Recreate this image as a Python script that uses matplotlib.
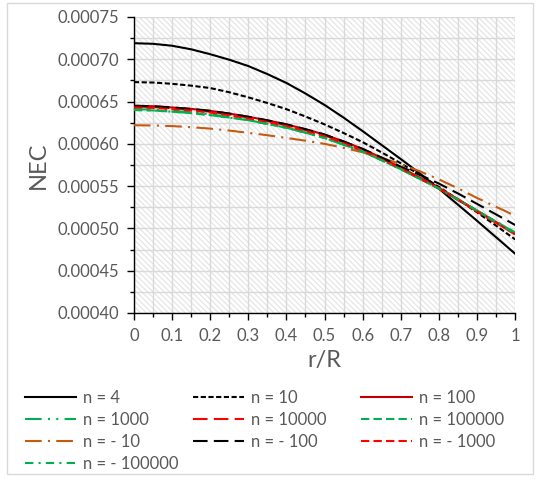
import matplotlib
matplotlib.use("Agg")
import matplotlib.pyplot as plt
from matplotlib.patches import Rectangle
from matplotlib.ticker import MultipleLocator, FormatStrFormatter, FuncFormatter

plt.rcParams['font.family'] = ['Lato', 'DejaVu Sans']
plt.rcParams['hatch.linewidth'] = 0.8

r = [0.0, 0.05, 0.1, 0.15, 0.2, 0.25, 0.3, 0.35, 0.4, 0.45, 0.5,
     0.55, 0.6, 0.65, 0.7, 0.75, 0.8, 0.85, 0.9, 0.95, 1.0]

n4 = [719e-6, 718.3e-6, 716e-6, 711.8e-6, 706e-6, 699.5e-6, 692e-6, 682.5e-6, 672e-6, 659.5e-6, 646e-6,
      631e-6, 615e-6, 598.5e-6, 582e-6, 565e-6, 547e-6, 528e-6, 509e-6, 489.5e-6, 470e-6]
n10 = [673e-6, 672.5e-6, 671e-6, 668.8e-6, 666e-6, 661e-6, 655e-6, 648.3e-6, 641e-6, 632.3e-6, 623e-6,
       612.8e-6, 602e-6, 589.8e-6, 577e-6, 563.3e-6, 549e-6, 534.3e-6, 519e-6, 503.2e-6, 487e-6]
n100 = [645e-6, 644.5e-6, 643e-6, 641.3e-6, 639e-6, 635.8e-6, 632e-6, 627.8e-6, 623e-6, 617.3e-6, 611e-6,
        602.8e-6, 594e-6, 583.3e-6, 572e-6, 560e-6, 548e-6, 534.6e-6, 521e-6, 507.5e-6, 494e-6]
n1000 = [641e-6, 640.5e-6, 639e-6, 637.3e-6, 635e-6, 631.8e-6, 628e-6, 623.8e-6, 619e-6, 613.3e-6, 607e-6,
         599e-6, 591e-6, 580.5e-6, 570e-6, 558.5e-6, 547e-6, 534e-6, 521e-6, 508e-6, 495e-6]
n10000 = [644e-6, 643.5e-6, 642e-6, 640.3e-6, 638e-6, 634.8e-6, 631e-6, 626.8e-6, 622e-6, 616.3e-6, 610e-6,
          601.8e-6, 593e-6, 582.3e-6, 571e-6, 559.2e-6, 547e-6, 533.6e-6, 520e-6, 506.5e-6, 493e-6]
n100000 = [640e-6, 639.5e-6, 638e-6, 636.3e-6, 634e-6, 631e-6, 628e-6, 623.5e-6, 619e-6, 613.2e-6, 607e-6,
           599e-6, 591e-6, 580.5e-6, 570e-6, 558.5e-6, 547e-6, 534e-6, 521e-6, 508e-6, 495e-6]
nm10 = [622e-6, 621.7e-6, 621e-6, 619.7e-6, 618e-6, 615.7e-6, 613e-6, 610.2e-6, 607e-6, 603.7e-6, 600e-6,
        595.3e-6, 590e-6, 583.5e-6, 576e-6, 567.5e-6, 558e-6, 547.3e-6, 536e-6, 525.5e-6, 515e-6]
nm100 = [645e-6, 644.5e-6, 643e-6, 641.3e-6, 639e-6, 635.8e-6, 632e-6, 627.8e-6, 623e-6, 617.3e-6, 611e-6,
         602.8e-6, 594e-6, 583.8e-6, 573e-6, 563.3e-6, 553e-6, 541.3e-6, 529e-6, 516.5e-6, 504e-6]
nm1000 = [643e-6, 642.5e-6, 641e-6, 639.3e-6, 637e-6, 633.8e-6, 630e-6, 625.8e-6, 621e-6, 615.3e-6, 609e-6,
          600.8e-6, 592e-6, 581.3e-6, 571e-6, 559e-6, 547e-6, 533.6e-6, 520e-6, 506.5e-6, 493e-6]
nm100000 = [640e-6, 639.5e-6, 638e-6, 636.3e-6, 634e-6, 631e-6, 628e-6, 623.5e-6, 619e-6, 613.2e-6, 607e-6,
            599e-6, 591e-6, 580.5e-6, 570e-6, 558.5e-6, 547e-6, 534e-6, 521e-6, 507.5e-6, 494e-6]

labels = ["n = 4", "n = 10", "n = 100", "n = 1000", "n = 10000", "n = 100000",
          "n = - 10", "n = - 100", "n = - 1000", "n = - 100000"]

GREEN = "#00B050"
ORANGE = "#C55A11"
RED = "#FF0000"
DARKRED = "#C00000"

series = [
    (n4, "black", None),
    (n10, "black", (2.5, 1.2)),
    (n100, DARKRED, None),
    (n1000, GREEN, (8, 3, 1, 3, 1, 3)),
    (n10000, RED, (7, 3)),
    (n100000, GREEN, (4, 2)),
    (nm10, ORANGE, (8, 3, 1, 3)),
    (nm100, "black", (7, 3)),
    (nm1000, RED, (4, 2)),
    (nm100000, GREEN, (4, 2.5, 1, 2.5)),
]

fig = plt.figure(figsize=(5.4, 4.8), dpi=100)
ax = fig.add_axes([0.248, 0.348, 0.706, 0.6166])

# outer chart border
fig.patches.append(Rectangle((0.013, 0.012), 0.974, 0.982, transform=fig.transFigure,
                             fill=False, edgecolor="#D9D9D9", linewidth=1.0))

# hatched plot area background
ax.add_patch(Rectangle((0, 0), 1, 1, transform=ax.transAxes, facecolor="white",
                       edgecolor="#E3E3E3", linewidth=0, hatch="\\\\\\\\\\\\", zorder=0))

handles = []
for (vals, color, dash), lab in zip(series, labels):
    ln, = ax.plot(r, vals, color=color, linewidth=1.5, label=lab, zorder=3)
    if dash is not None:
        ln.set_dashes(dash)
    handles.append(ln)

ax.set_xlim(0, 1)
ax.set_ylim(0.0004, 0.00075)
ax.xaxis.set_major_locator(MultipleLocator(0.1))
ax.xaxis.set_minor_locator(MultipleLocator(0.05))
ax.yaxis.set_major_locator(MultipleLocator(0.00005))
ax.yaxis.set_minor_locator(MultipleLocator(0.000025))
ax.yaxis.set_major_formatter(FormatStrFormatter("%.5f"))
ax.xaxis.set_major_formatter(FuncFormatter(lambda v, p: "%g" % round(v, 2)))

ax.set_axisbelow(True)
ax.grid(True, which="both", color="#D9D9D9", linewidth=1.0, zorder=1)

for s in ["top", "right"]:
    ax.spines[s].set_visible(False)
for s in ["left", "bottom"]:
    ax.spines[s].set_color("black")
    ax.spines[s].set_linewidth(1.0)

ax.tick_params(axis="both", which="major", direction="out", length=5, width=1,
               color="black", labelcolor="#595959", labelsize=12)
ax.tick_params(axis="both", which="minor", direction="out", length=3, width=1, color="black")
ax.tick_params(axis="y", which="major", pad=6)
ax.tick_params(axis="x", which="major", pad=6)

ax.set_ylabel("NEC", fontsize=17, color="#595959", labelpad=6)
ax.set_xlabel("r/R", fontsize=17, color="#595959", labelpad=4)

# legend: three columns in row-major order, placed as separate column legends
columns = [[0, 3, 6, 9], [1, 4, 7], [2, 5, 8]]
col_x = [25 / 540, 193 / 540, 361 / 540]
for idxs, x0 in zip(columns, col_x):
    leg = fig.legend([handles[i] for i in idxs], [labels[i] for i in idxs],
                     loc="upper left", bbox_to_anchor=(x0, 0.187), ncol=1,
                     frameon=False, fontsize=12, handlelength=3.06, handletextpad=0.42,
                     labelspacing=0.35, borderaxespad=0, borderpad=0)
    for t in leg.get_texts():
        t.set_color("#595959")

fig.savefig("out.png", dpi=100)
